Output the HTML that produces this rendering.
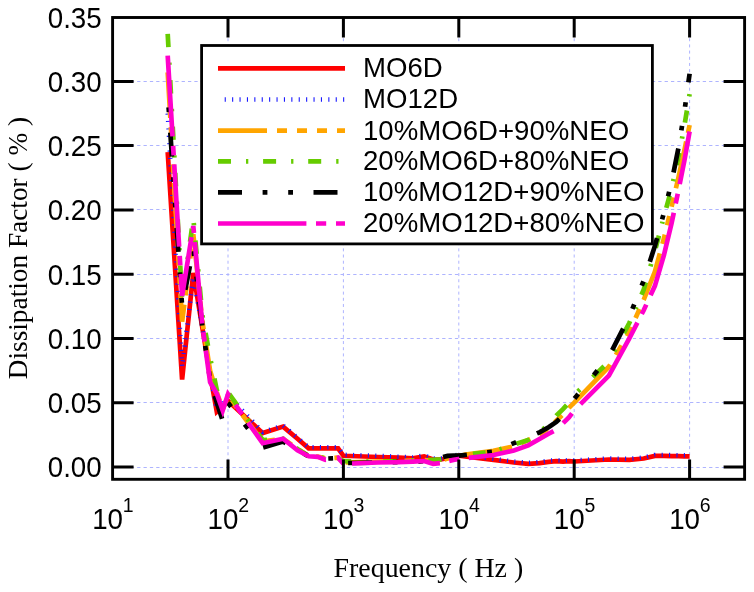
<!DOCTYPE html>
<html><head><meta charset="utf-8"><style>
html,body{margin:0;padding:0;background:#fff;}
svg{display:block;will-change:transform;}
text{font-family:"Liberation Sans",sans-serif;}
</style></head><body>
<svg width="754" height="592" viewBox="0 0 754 592">
<rect width="754" height="592" fill="#fff"/>
<g stroke="#aeb4ff" stroke-width="1"><line x1="228.0" y1="17.5" x2="228.0" y2="479.3" stroke-dasharray="3 3.18" stroke-dashoffset="3.99"/><line x1="343.4" y1="17.5" x2="343.4" y2="479.3" stroke-dasharray="3 3.18" stroke-dashoffset="3.99"/><line x1="458.8" y1="17.5" x2="458.8" y2="479.3" stroke-dasharray="3 3.18" stroke-dashoffset="3.99"/><line x1="574.2" y1="17.5" x2="574.2" y2="479.3" stroke-dasharray="3 3.18" stroke-dashoffset="3.99"/><line x1="689.6" y1="17.5" x2="689.6" y2="479.3" stroke-dasharray="3 3.18" stroke-dashoffset="3.99"/><line x1="112.6" y1="467.5" x2="744.6" y2="467.5" stroke-dasharray="3.3 3.055" stroke-dashoffset="0.87"/><line x1="112.6" y1="402.5" x2="744.6" y2="402.5" stroke-dasharray="3.3 3.055" stroke-dashoffset="0.87"/><line x1="112.6" y1="338.5" x2="744.6" y2="338.5" stroke-dasharray="3.3 3.055" stroke-dashoffset="0.87"/><line x1="112.6" y1="274.5" x2="744.6" y2="274.5" stroke-dasharray="3.3 3.055" stroke-dashoffset="0.87"/><line x1="112.6" y1="209.5" x2="744.6" y2="209.5" stroke-dasharray="3.3 3.055" stroke-dashoffset="0.87"/><line x1="112.6" y1="145.5" x2="744.6" y2="145.5" stroke-dasharray="3.3 3.055" stroke-dashoffset="0.87"/><line x1="112.6" y1="81.5" x2="744.6" y2="81.5" stroke-dasharray="3.3 3.055" stroke-dashoffset="0.87"/></g>
<path d="M167.7 152.1 L182.1 379.6 L193.3 272.9 L202.4 328.2 L210.1 374.5 L216.8 411.7 L222.7 406.6 L228.0 400.8 L262.7 433.1 L283.1 426.6 L297.5 438.7 L308.7 448.4 L317.8 448.4 L325.5 448.4 L332.2 448.4 L338.1 448.4 L343.4 455.8 L378.1 457.0 L398.5 457.7 L412.9 458.3 L424.1 456.5 L433.2 459.5 L440.9 459.5 L447.6 458.0 L453.5 456.5 L458.8 455.7 L493.5 459.9 L513.9 462.5 L528.3 463.8 L539.5 463.1 L548.6 461.9 L556.3 461.2 L563.0 461.6 L568.9 461.2 L574.2 461.5 L608.9 459.5 L629.3 459.9 L643.7 458.5 L654.9 455.9 L664.0 455.9 L671.7 456.1 L678.4 456.2 L684.3 456.3 L689.6 456.3" stroke="#ff0000" stroke-width="4.7" fill="none" stroke-linejoin="miter" stroke-miterlimit="4"/>
<path d="M167.7 113.5 L182.1 366.7 L193.3 276.8 L202.4 328.2 L210.1 373.2 L216.8 409.2 L222.7 405.3 L228.0 395.0 L262.7 432.0 L283.1 425.6 L297.5 437.7 L308.7 447.3 L317.8 447.3 L325.5 447.3 L332.2 447.3 L338.1 447.3 L343.4 454.8 L378.1 455.9 L398.5 456.7 L412.9 457.2 L424.1 455.4 L433.2 458.5 L440.9 458.5 L447.6 457.0 L453.5 455.4 L458.8 454.7 L493.5 458.9 L513.9 461.5 L528.3 462.8 L539.5 462.1 L548.6 460.8 L556.3 460.2 L563.0 460.6 L568.9 460.2 L574.2 460.4 L608.9 458.5 L629.3 458.9 L643.7 457.5 L654.9 454.9 L664.0 454.9 L671.7 455.0 L678.4 455.2 L684.3 455.3 L689.6 455.3" stroke="#1a1aff" stroke-width="4.5" fill="none" stroke-linejoin="miter" stroke-miterlimit="4" stroke-dasharray="1.1 6.3"/>
<path d="M167.7 72.4 L182.1 321.7 L193.3 234.3 L202.4 321.7 L210.1 370.6 L216.8 392.4 L222.7 409.2 L228.0 396.3 L262.7 441.3 L283.1 438.7 L297.5 449.0 L308.7 456.1 L317.8 456.7 L325.5 458.3 L332.2 458.0 L338.1 457.7 L343.4 462.5" stroke="#ffa500" stroke-width="4.7" fill="none" stroke-linejoin="miter" stroke-miterlimit="4" stroke-dasharray="45.57 9.3 9.3 9.3 9.3 9.3 9.3 9.3"/>
<path d="M343.4 462.5 L378.1 461.6 L398.5 461.2 L412.9 460.6 L424.1 459.9 L433.2 461.2 L440.9 460.6 L447.6 458.6 L453.5 457.0 L458.8 455.4 L493.5 450.9 L513.9 446.4 L528.3 440.0 L539.5 434.9 L548.6 428.4 L556.3 420.7 L563.0 414.3 L568.9 407.9 L574.2 402.7 L608.9 366.7 L629.3 332.0 L643.7 299.9 L654.9 271.6 L664.0 238.2 L671.7 206.1 L678.4 177.8 L684.3 150.8 L689.6 125.1" stroke="#ffa500" stroke-width="4.7" fill="none" stroke-linejoin="miter" stroke-miterlimit="4" stroke-dasharray="0 2.2 49.0 10.0 10.0 10.0 10.0 10.0 10.0 10.0 49.0 10.0 10.0 10.0 10.0 10.0 10.0 10.0 59.97 11.31 10.99 10.66 10.27 9.87 9.87 9.87 49.49 9.71 9.66 9.62 9.55 9.49 9.48 9.47 47.9 8.69 8.12 564.2"/>
<path d="M167.7 33.8 L182.1 299.9 L193.3 218.1 L202.4 315.3 L210.1 357.7 L216.8 389.9 L222.7 406.6 L228.0 392.4 L262.7 440.0 L283.1 438.7 L297.5 449.0 L308.7 456.1 L317.8 456.7 L325.5 458.3 L332.2 458.3 L338.1 458.0 L343.4 461.2" stroke="#66cc00" stroke-width="4.7" fill="none" stroke-linejoin="miter" stroke-miterlimit="4" stroke-dasharray="13.39 15.45 2.37 15.24 13.39 15.45 2.37 15.24 13.39 15.45 2.37 15.24 13.39 15.45 2.37 15.24 13.39 15.45 2.37 15.24 13.39 15.45 2.37 15.24 13.39 15.45 2.37 15.24 13.39 15.45 2.37 15.24 13.39 15.45 2.37 15.24 13.39 15.45 2.37 15.24 13.39 15.45 2.37 15.24 13.39 15.45 2.37 15.24 14.1 17.08 2.46 14.76 12.99 15.01 2.3 14.8 13.0 15.0 2.3 14.8 5.7 711.6"/>
<path d="M343.4 461.2 L378.1 461.9 L398.5 461.2 L412.9 460.6 L424.1 459.9 L433.2 459.9 L440.9 459.3 L447.6 458.0 L453.5 456.7 L458.8 455.4 L493.5 451.6 L513.9 444.5 L528.3 440.0 L539.5 432.3 L548.6 424.6 L556.3 415.6 L563.0 409.2 L568.9 402.7 L574.2 395.0 L608.9 361.6 L629.3 323.0 L643.7 289.6 L654.9 251.1 L664.0 216.3 L671.7 188.1 L678.4 157.2 L684.3 126.4 L689.6 94.2" stroke="#66cc00" stroke-width="4.7" fill="none" stroke-linejoin="miter" stroke-miterlimit="4" stroke-dasharray="7.8 15.0 2.3 14.8 13.0 15.0 2.3 14.8 13.0 15.0 2.3 14.8 12.75 14.43 2.31 15.48 14.01 16.63 2.55 16.41 14.93 17.82 2.75 17.82 15.69 18.15 2.78 17.9 13.67 13.4 2.05 13.22 13.04 16.69 2.58 16.71 12.67 12.3 2.06 14.37 12.7 14.74 2.24 14.3 12.56 14.5 2.2 13.99 12.33 14.27 2.24 581.3765570692922"/>
<path d="M167.7 94.2 L182.1 306.3 L193.3 248.5 L202.4 326.9 L210.1 379.6 L216.8 402.7 L222.7 420.5 L228.0 402.7 L262.7 447.7 L283.1 441.5 L297.5 450.3 L308.7 456.3 L317.8 457.0 L325.5 458.6 L332.2 458.3 L338.1 458.0 L343.4 463.1" stroke="#000000" stroke-width="4.7" fill="none" stroke-linejoin="miter" stroke-miterlimit="4" stroke-dasharray="0 13.2 4.8 20.5 24.0 20.6 4.8 20.8 4.8 20.5 24.0 20.6 4.8 20.8 4.8 20.5 24.0 20.6 4.8 20.8 4.8 20.5 24.0 20.6 4.8 20.8 4.8 20.5 24.0 20.6 4.97 22.29 5.44 24.53 24.0 20.6 4.8 20.8 4.8 622.0852704882153"/>
<path d="M343.4 463.1 L378.1 462.5 L398.5 462.1 L412.9 461.9 L424.1 461.2 L433.2 459.3 L440.9 457.7 L447.6 455.9 L453.5 455.7 L458.8 455.7 L493.5 451.6 L513.9 443.1 L528.3 437.4 L539.5 432.3 L548.6 427.2 L556.3 422.0 L563.0 415.6 L568.9 407.9 L574.2 398.9 L608.9 356.5 L629.3 316.6 L643.7 280.6 L654.9 245.9 L664.0 212.5 L671.7 181.6 L678.4 148.2 L684.3 112.2 L689.6 73.7" stroke="#000000" stroke-width="4.7" fill="none" stroke-linejoin="miter" stroke-miterlimit="4" stroke-dasharray="0 4.7 24.0 20.6 4.8 20.8 4.8 20.5 24.0 20.42 4.8 21.02 5.06 22.55 26.87 25.6 5.82 24.56 5.8 25.3 24.16 21.81 4.86 20.11 4.73 20.58 24.68 19.37 4.5 19.45 4.56 19.77 24.54 18.39 4.38 19.41 4.59 20.05 8.78 610.7"/>
<path d="M167.7 55.7 L182.1 296.0 L193.3 226.0 L202.4 325.6 L210.1 382.2 L216.8 393.7 L222.7 410.4 L228.0 394.2 L262.7 443.2 L283.1 438.7 L297.5 450.3 L308.7 456.3 L317.8 456.8 L325.5 459.8 L332.2 459.3 L338.1 457.7 L343.4 463.8" stroke="#ff00cc" stroke-width="4.7" fill="none" stroke-linejoin="miter" stroke-miterlimit="4" stroke-dasharray="80.75 9.48 9.67 8.89 82.45 9.29 9.46 8.7 81.73 8.88 9.43 9.06 81.73 8.88 9.43 9.06 81.73 11.18 11.4 10.5 95.1 11.15 9.28 677.2"/>
<path d="M343.4 463.8 L378.1 462.5 L398.5 462.2 L412.9 461.6 L424.1 461.0 L433.2 463.8 L440.9 463.1 L447.6 461.2 L453.5 459.9 L458.8 459.0 L493.5 455.0 L513.9 450.5 L528.3 445.4 L539.5 439.0 L548.6 433.8 L556.3 429.7 L563.0 423.3 L568.9 417.5 L574.2 410.4 L608.9 375.7 L629.3 338.5 L643.7 310.2 L654.9 285.8 L664.0 254.9 L671.7 222.8 L678.4 190.6 L684.3 161.1 L689.6 131.5" stroke="#ff00cc" stroke-width="4.7" fill="none" stroke-linejoin="miter" stroke-miterlimit="4" stroke-dasharray="0 8.63 88.4 9.6 10.2 9.56 90.12 12.54 13.23 12.62 100.44 9.6 10.45 10.28 85.91 9.42 10.07 9.73 53.57 564.4"/>
<path d="M228.0 479.3V459.6M228.0 17.5V37.4M343.4 479.3V459.6M343.4 17.5V37.4M458.8 479.3V459.6M458.8 17.5V37.4M574.2 479.3V459.6M574.2 17.5V37.4M689.6 479.3V459.6M689.6 17.5V37.4M112.6 467.0H133.6M744.6 467.0H723.6M112.6 402.7H133.6M744.6 402.7H723.6M112.6 338.5H133.6M744.6 338.5H723.6M112.6 274.2H133.6M744.6 274.2H723.6M112.6 209.9H133.6M744.6 209.9H723.6M112.6 145.6H133.6M744.6 145.6H723.6M112.6 81.4H133.6M744.6 81.4H723.6" stroke="#000" stroke-width="3" fill="none"/>
<rect x="112.6" y="17.5" width="632.0" height="461.8" fill="none" stroke="#000" stroke-width="2.9"/>
<g font-family="Liberation Sans" font-size="29.2" fill="#000"><text transform="translate(101.7 477.4) scale(0.95 1)" text-anchor="end">0.00</text><text transform="translate(101.7 413.1) scale(0.95 1)" text-anchor="end">0.05</text><text transform="translate(101.7 348.9) scale(0.95 1)" text-anchor="end">0.10</text><text transform="translate(101.7 284.6) scale(0.95 1)" text-anchor="end">0.15</text><text transform="translate(101.7 220.3) scale(0.95 1)" text-anchor="end">0.20</text><text transform="translate(101.7 156.0) scale(0.95 1)" text-anchor="end">0.25</text><text transform="translate(101.7 91.8) scale(0.95 1)" text-anchor="end">0.30</text><text transform="translate(101.7 27.5) scale(0.95 1)" text-anchor="end">0.35</text><text transform="translate(92.2 529) scale(0.95 1)">10</text><text transform="translate(122.8 512.1) scale(0.95 1)" font-size="20.5">1</text><text transform="translate(207.6 529) scale(0.95 1)">10</text><text transform="translate(238.2 512.1) scale(0.95 1)" font-size="20.5">2</text><text transform="translate(323.0 529) scale(0.95 1)">10</text><text transform="translate(353.6 512.1) scale(0.95 1)" font-size="20.5">3</text><text transform="translate(438.4 529) scale(0.95 1)">10</text><text transform="translate(469.0 512.1) scale(0.95 1)" font-size="20.5">4</text><text transform="translate(553.8 529) scale(0.95 1)">10</text><text transform="translate(584.4 512.1) scale(0.95 1)" font-size="20.5">5</text><text transform="translate(669.2 529) scale(0.95 1)">10</text><text transform="translate(699.8 512.1) scale(0.95 1)" font-size="20.5">6</text></g>
<text x="428.4" y="576.8" text-anchor="middle" font-family="Liberation Serif" style="font-family:'Liberation Serif',serif" font-size="27.9">Frequency ( Hz )</text>
<text transform="translate(27 248.1) rotate(-90)" text-anchor="middle" font-family="Liberation Serif" style="font-family:'Liberation Serif',serif" font-size="27.3">Dissipation Factor ( % )</text>
<rect x="201.6" y="45.5" width="450.8" height="198.4" fill="#fff" stroke="#000" stroke-width="2.8"/><text x="363" y="77.2" font-family="Liberation Sans" font-size="27.6">MO6D</text><text x="363" y="108.3" font-family="Liberation Sans" font-size="27.6">MO12D</text><text x="363" y="139.5" font-family="Liberation Sans" font-size="27.6">10%MO6D+90%NEO</text><text x="363" y="170.1" font-family="Liberation Sans" font-size="27.6">20%MO6D+80%NEO</text><text x="363" y="201.2" font-family="Liberation Sans" font-size="27.6">10%MO12D+90%NEO</text><text x="363" y="232.3" font-family="Liberation Sans" font-size="27.6">20%MO12D+80%NEO</text>
<path d="M218 68.4H345" stroke="#ff0000" stroke-width="4.7" fill="none"/><path d="M224.7 99.5H345" stroke="#1a1aff" stroke-width="4.5" fill="none" stroke-dasharray="1.1 6.3"/><path d="M218 130.7H345" stroke="#ffa500" stroke-width="4.7" fill="none" stroke-dasharray="49 10 10 10 10 10 10 10"/><path d="M218 161.3H345" stroke="#66cc00" stroke-width="4.7" fill="none" stroke-dasharray="13 15 2.3 14.8"/><path d="M218 192.4H345" stroke="#000000" stroke-width="4.7" fill="none" stroke-dasharray="24 20.6 4.8 20.8 4.8 20.5"/><path d="M218 223.5H345" stroke="#ff00cc" stroke-width="4.7" fill="none" stroke-dasharray="88.4 9.6 10.2 9.8"/>
</svg>
</body></html>
